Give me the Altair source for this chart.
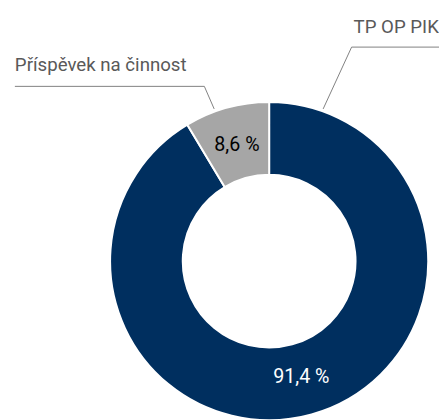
import altair as alt
import pandas as pd

categories = ["TP OP PIK", "Příspěvek na činnost"]
values = [91.4, 8.6]
value_labels = ["91,4 %", "8,6 %"]
colors = ["#002F5F", "#A6A6A6"]
label_colors = ["white", "black"]

df = pd.DataFrame({
    "cat": categories,
    "val": values,
    "lab": value_labels,
    "ord": [0, 1],
    "tcol": label_colors,
})

W, H = 439, 412
OFF = 8
CX, CY = 274 - OFF, 262 - OFF
R_OUT, R_IN = 162, 88
FONT = "Roboto"

base = alt.Chart(df).encode(
    theta=alt.Theta("val:Q", stack=True),
    order=alt.Order("ord:Q"),
    x=alt.value(CX),
    y=alt.value(CY),
)

arcs = base.mark_arc(outerRadius=R_OUT, innerRadius=R_IN, stroke="white", strokeWidth=2).encode(
    color=alt.Color("cat:N", scale=alt.Scale(domain=categories, range=colors), legend=None)
)

pct = base.mark_text(radius=123, fontSize=20, font=FONT).encode(
    text="lab:N",
    color=alt.Color("tcol:N", scale=None),
)

# Leader lines and category labels (annotation layout)
line_color = "#7F7F7F"
segs = [
    (358, 44, 460, 44),
    (358, 44, 329, 107),
    (15, 84, 208, 84),
    (208, 84, 218, 107),
]
rules = []
for x1, y1, x2, y2 in segs:
    rules.append(
        alt.Chart(df.head(1)).mark_rule(color=line_color, strokeWidth=1).encode(
            x=alt.value(x1 - OFF), y=alt.value(y1 - OFF), x2=alt.value(x2 - OFF), y2=alt.value(y2 - OFF)
        )
    )

label_pos = [(360, 30), (15, 68)]
texts = []
for cat, (tx, ty) in zip(categories, label_pos):
    texts.append(
        alt.Chart(pd.DataFrame({"cat": [cat]})).mark_text(
            align="left", baseline="alphabetic", fontSize=19, font=FONT, color="#595959"
        ).encode(x=alt.value(tx - OFF), y=alt.value(ty - OFF), text="cat:N")
    )

chart = alt.layer(arcs, pct, *rules, *texts).properties(
    width=W, height=H, autosize=alt.AutoSizeParams(type="none"), padding=0
).configure_view(stroke=None)

chart.save("out.html", embed_options={"renderer": "svg", "actions": False})
